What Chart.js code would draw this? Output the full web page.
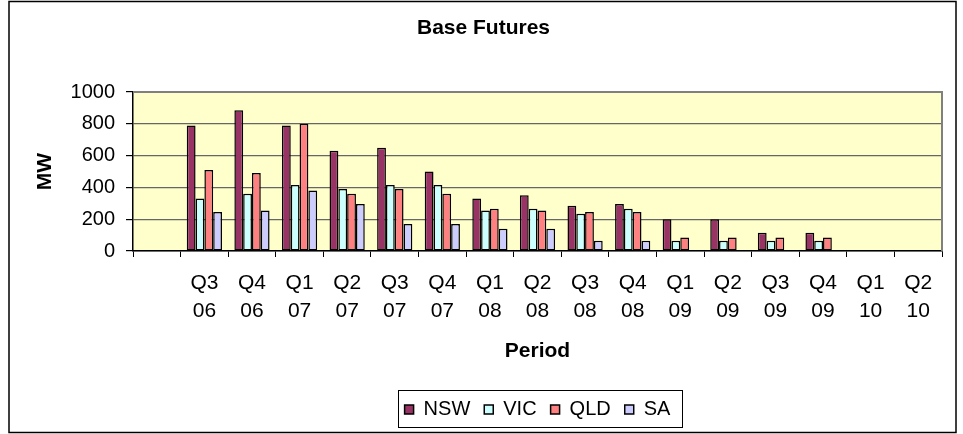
<!DOCTYPE html>
<html>
<head>
<meta charset="utf-8">
<script src="https://cdn.jsdelivr.net/npm/chart.js@4.4.0/dist/chart.umd.min.js"></script>
<style>
  body { margin: 0; background: #fff; }
  #wrap { width: 963px; height: 434px; }
</style>
</head>
<body>
<div id="wrap"><canvas id="Futures" width="963" height="434"></canvas></div>
<script>
// first slot is an empty category, like the excel sheet
var periods = [[''], ['Q3','06'], ['Q4','06'], ['Q1','07'], ['Q2','07'], ['Q3','07'], ['Q4','07'],
  ['Q1','08'], ['Q2','08'], ['Q3','08'], ['Q4','08'], ['Q1','09'], ['Q2','09'], ['Q3','09'],
  ['Q4','09'], ['Q1','10'], ['Q2','10']];
var nsw = [null, 790, 885, 790, 630, 650, 500, 330, 350, 285, 295, 200, 200, 115, 115, null, null];
var vic = [null, 330, 360, 415, 390, 415, 415, 255, 265, 235, 265, 65, 65, 65, 65, null, null];
var qld = [null, 510, 490, 800, 360, 390, 360, 265, 255, 245, 245, 85, 85, 85, 85, null, null];
var sa  = [null, 245, 255, 380, 295, 170, 170, 140, 140, 65, 65, null, null, null, null, null, null];
var yTicks = [0, 200, 400, 600, 800, 1000];

Chart.defaults.font.family = '"Liberation Sans", Arial, sans-serif';
Chart.defaults.color = '#000';

function bars(name, data, colour) {
  return {
    label: name,
    data: data,
    backgroundColor: colour,
    borderColor: '#000',
    borderWidth: 1.5,
    borderSkipped: false,
    categoryPercentage: 0.74,
    barPercentage: 1.0
  };
}

// plot background, outer frame and legend frame
var frame = {
  id: 'frame',
  afterLayout: function (chart) {
    // excel centres the legend under the plot, not the whole chart
    var a = chart.chartArea;
    chart.legend.left = a.left;
    chart.legend.right = a.right;
    chart.legend.width = a.right - a.left;
  },
  beforeDraw: function (chart) {
    var c = chart.ctx, a = chart.chartArea;
    c.save();
    c.fillStyle = '#fff';
    c.fillRect(0, 0, chart.width, chart.height);
    c.fillStyle = '#FFFFCC';
    c.fillRect(a.left, a.top, a.right - a.left, a.bottom - a.top);
    c.restore();
  },
  afterDraw: function (chart) {
    var c = chart.ctx, a = chart.chartArea;
    c.save();
    // grey plot border, top and right
    c.strokeStyle = '#808080';
    c.lineWidth = 2;
    c.beginPath();
    c.moveTo(a.left, a.top);
    c.lineTo(a.right, a.top);
    c.lineTo(a.right, a.bottom);
    c.stroke();
    // outer chart border
    c.strokeStyle = '#000';
    c.lineWidth = 1.5;
    c.strokeRect(9, 1.5, 947, 431);
    // box round the legend
    var hb = chart.legend.legendHitBoxes;
    if (hb && hb.length) {
      var first = hb[0], last = hb[hb.length - 1];
      var l = first.left - 7, r = last.left + last.width + 11;
      var t = first.top - 10, b = first.top + first.height + 7;
      c.lineWidth = 1;
      c.strokeRect(Math.round(l) + 0.5, Math.round(t) + 0.5, Math.round(r - l), Math.round(b - t));
    }
    c.restore();
  }
};

new Chart(document.getElementById('Futures'), {
  type: 'bar',
  data: {
    labels: periods,
    datasets: [
      bars('NSW', nsw, '#993366'),
      bars('VIC', vic, '#CCFFFF'),
      bars('QLD', qld, '#FF8080'),
      bars('SA', sa, '#CCCCFF')
    ]
  },
  options: {
    responsive: false,
    animation: false,
    layout: { padding: { left: 25, right: 21, top: 0, bottom: 4.5 } },
    plugins: {
      title: {
        display: true,
        text: 'Base Futures',
        font: { size: 21, weight: 'bold', lineHeight: 1.2 },
        padding: { top: 15.4, bottom: 51.4 }
      },
      legend: {
        position: 'bottom',
        labels: {
          boxWidth: 9,
          boxHeight: 9,
          padding: 14,
          font: { size: 20 }
        }
      },
      tooltip: { enabled: false }
    },
    scales: {
      x: {
        offset: true,
        grid: { display: true, drawOnChartArea: false, offset: true, tickLength: 6, tickColor: '#000', tickWidth: 1 },
        border: { color: '#000', width: 1.5 },
        ticks: { padding: 12, maxRotation: 0, autoSkip: false, font: { size: 21, lineHeight: 1.33 } },
        title: {
          display: true,
          text: 'Period',
          font: { size: 21, weight: 'bold', lineHeight: 1.2 },
          padding: { top: 0, bottom: 21.9 }
        },
        afterFit: function (scale) { scale.height = 134.5; }
      },
      y: {
        min: 0,
        max: 1000,
        afterBuildTicks: function (scale) {
          scale.ticks = yTicks.map(function (v) { return { value: v }; });
        },
        grid: { color: '#666', lineWidth: 1.2, tickLength: 7, tickColor: '#000' },
        border: { color: '#000', width: 1.5 },
        ticks: {
          padding: 11,
          font: { size: 20 },
          callback: function (v) { return String(v); }
        },
        title: {
          display: true,
          text: 'MW',
          font: { size: 21, weight: 'bold', lineHeight: 1.2 },
          padding: { top: 7.4, bottom: 0 }
        },
        afterFit: function (scale) { scale.width = 108; }
      }
    }
  },
  plugins: [frame]
});
</script>
</body>
</html>
